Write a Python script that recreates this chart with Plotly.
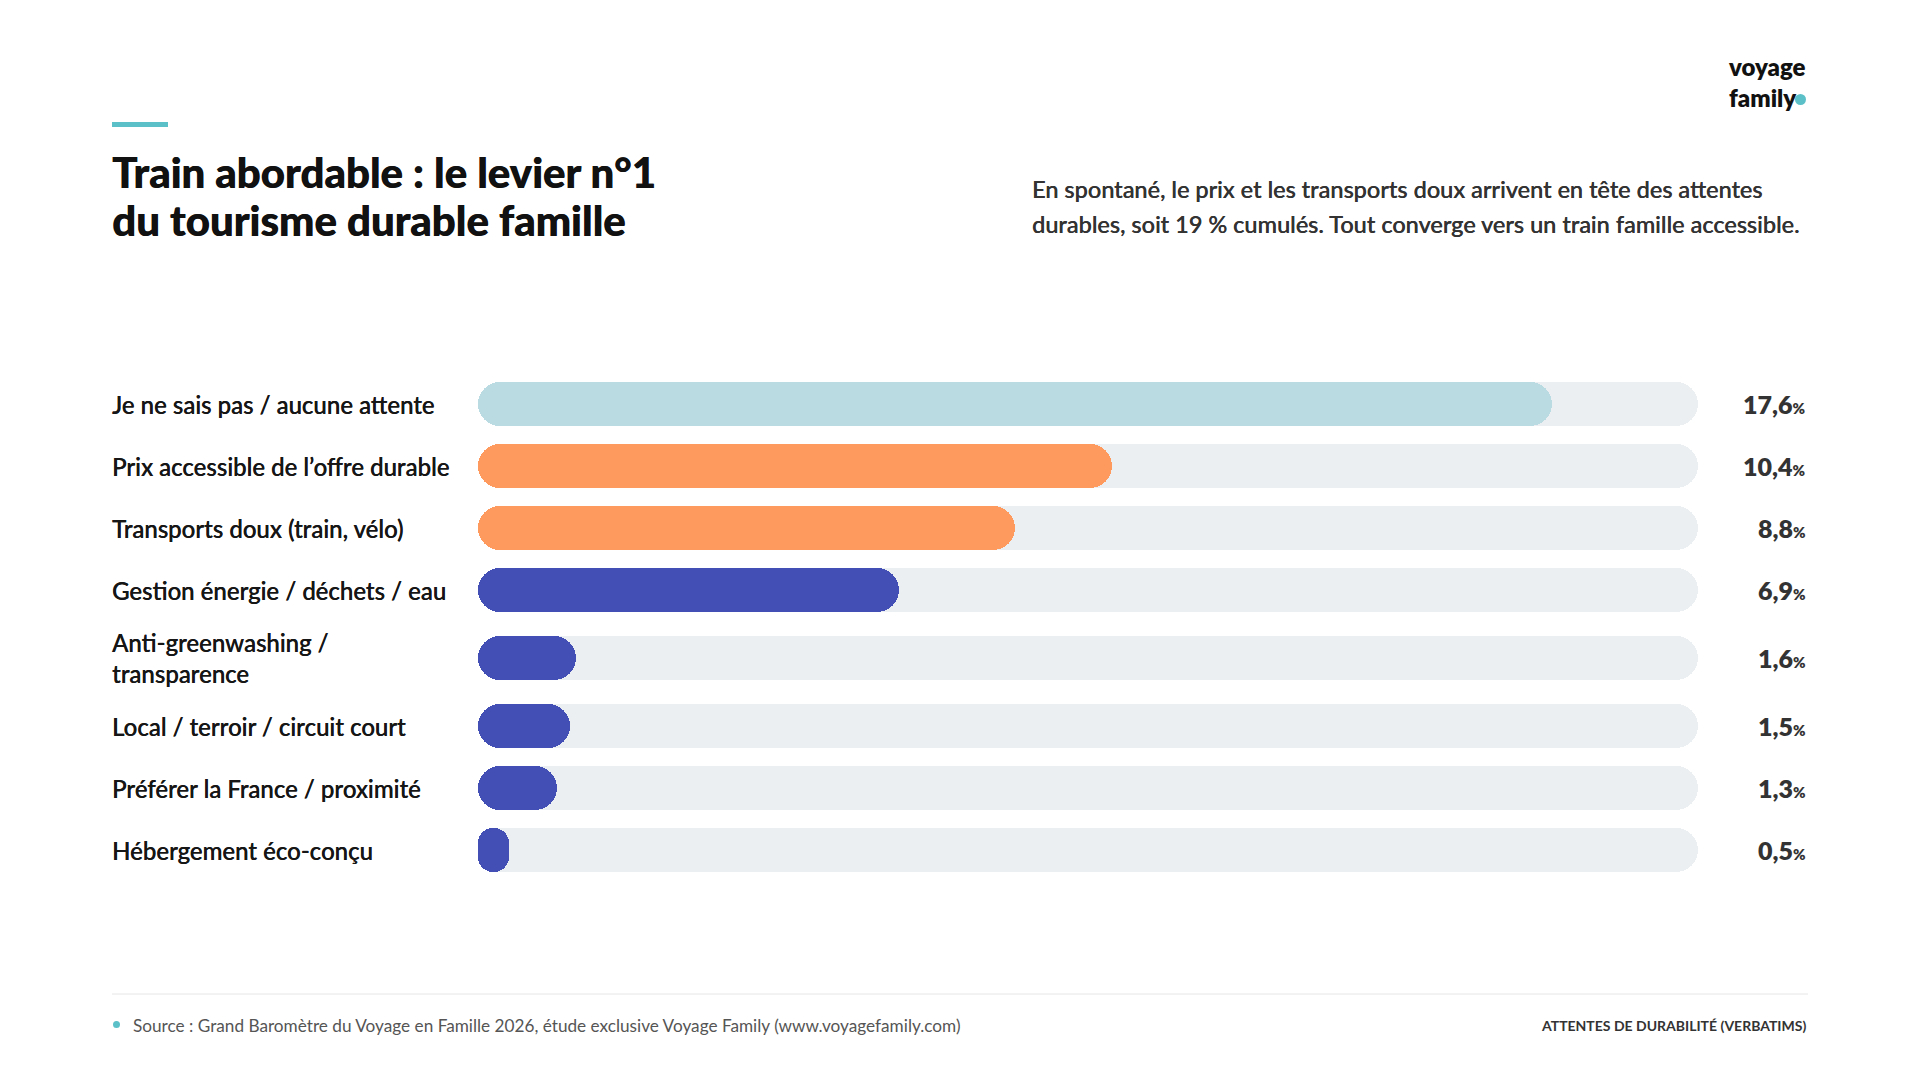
import plotly.graph_objects as go

# ---------------- data ----------------
categories = [
    "Je ne sais pas / aucune attente",
    "Prix accessible de l’offre durable",
    "Transports doux (train, vélo)",
    "Gestion énergie / déchets / eau",
    "Anti-greenwashing /<br>transparence",
    "Local / terroir / circuit court",
    "Préférer la France / proximité",
    "Hébergement éco-conçu",
]
values = [17.6, 10.4, 8.8, 6.9, 1.6, 1.5, 1.3, 0.5]
bar_colors = ["#BBDBE3", "#FF9A5E", "#FF9A5E", "#434FB5",
              "#434FB5", "#434FB5", "#434FB5", "#434FB5"]
scale_max = 20

title_lines = ["Train abordable : le levier n°1", "du tourisme durable famille"]
subtitle_lines = [
    "En spontané, le prix et les transports doux arrivent en tête des attentes",
    "durables, soit 19 % cumulés. Tout converge vers un train famille accessible.",
]
source_text = ("Source : Grand Baromètre du Voyage en Famille 2026, étude exclusive "
               "Voyage Family (www.voyagefamily.com)")
footer_right = "ATTENTES DE DURABILITÉ (VERBATIMS)"
logo_lines = ["voyage", "family"]

# ---------------- styling ----------------
W, H = 1920, 1080
FONT = "Lato"
TRACK = "#ECEFF2"
TEAL = "#5BC0C8"
TEXT = "#161616"
GREY = "#333333"
BAR_T = 44            # bar thickness (px)
ROW = 62              # base row pitch (px)
FIRST_ROW_PX = 404    # pixel centre of first row
PLOT_L, PLOT_R = 478, 1698

# row centres (px offsets) – taller rows for multi-line labels
heights = [ROW + 12 * c.count("<br>") for c in categories]
ypos = [0.0]
for i in range(1, len(categories)):
    ypos.append(ypos[-1] + (heights[i - 1] + heights[i]) / 2)

fig = go.Figure()

def pill(vals, color, name):
    # a bar with an explicit base is rounded at both ends -> pill shape
    fig.add_trace(go.Bar(
        orientation="h", y=ypos, x=list(vals), base=[0] * len(vals),
        width=BAR_T, marker=dict(color=color, cornerradius=BAR_T / 2, line=dict(width=0)),
        hoverinfo="skip", showlegend=False, name=name))

pill([scale_max] * len(values), TRACK, "track")
pill(values, bar_colors, "values")

ann = []
# category labels
for cat, y in zip(categories, ypos):
    ann.append(dict(x=110 / W, xref="paper", y=y, yref="y", text=cat, showarrow=False,
                    xanchor="left", yanchor="middle", align="left",
                    font=dict(family=FONT, size=24, color=TEXT, weight=500,
                              shadow="0.25px 0 0 #161616")))
# value labels
for v, y in zip(values, ypos):
    lbl = f"{v:.1f}".replace(".", ",")
    ann.append(dict(x=1808 / W, xref="paper", y=y, yref="y",
                    text=f"{lbl}<span style='font-size:15px'>%</span>",
                    showarrow=False, xanchor="right", yanchor="middle",
                    font=dict(family=FONT, size=25, color=GREY, weight=800)))
# title
for i, line in enumerate(title_lines):
    ann.append(dict(x=110 / W, xref="paper", y=1 - (172 + 48.5 * i) / H, yref="paper",
                    text=line, showarrow=False, xanchor="left", yanchor="middle",
                    font=dict(family=FONT, size=42, color="#111111", weight=900,
                              shadow="0.5px 0 0 #111111")))
# subtitle
for i, line in enumerate(subtitle_lines):
    ann.append(dict(x=1030 / W, xref="paper", y=1 - (189 + 35 * i) / H, yref="paper",
                    text=line, showarrow=False, xanchor="left", yanchor="middle",
                    font=dict(family=FONT, size=23.5, color=GREY, weight=500,
                              shadow="0.25px 0 0 #333333")))
# logo
ann.append(dict(x=1726 / W, xref="paper", y=1 - 50 / H, yref="paper",
                text="<br>".join(logo_lines), align="left",
                showarrow=False, xanchor="left", yanchor="top",
                font=dict(family=FONT, size=24, color="#111111", weight=800)))
# footer
ann.append(dict(x=131 / W, xref="paper", y=1 - 1025 / H, yref="paper", text=source_text,
                showarrow=False, xanchor="left", yanchor="middle",
                font=dict(family=FONT, size=17.2, color="#555555")))
ann.append(dict(x=1808 / W, xref="paper", y=1 - 1025 / H, yref="paper",
                text=footer_right, showarrow=False, xanchor="right",
                yanchor="middle", font=dict(family=FONT, size=14, color="#333333", weight=700)))

shapes = [
    # teal accent
    dict(type="rect", xref="paper", yref="paper", x0=112 / W, x1=168 / W,
         y0=1 - 127 / H, y1=1 - 122 / H, fillcolor=TEAL, line=dict(width=0)),
    # logo dot
    dict(type="circle", xref="paper", yref="paper", x0=1795 / W, x1=1806 / W,
         y0=1 - 105 / H, y1=1 - 94 / H, fillcolor=TEAL, line=dict(width=0)),
    # footer separator
    dict(type="line", xref="paper", yref="paper", x0=112 / W, x1=1808 / W,
         y0=1 - 994 / H, y1=1 - 994 / H, line=dict(color="#E6E6E6", width=1)),
    # footer dot
    dict(type="circle", xref="paper", yref="paper", x0=113 / W, x1=120 / W,
         y0=1 - 1028 / H, y1=1 - 1021 / H, fillcolor=TEAL, line=dict(width=0)),
]

fig.update_layout(
    width=W, height=H, margin=dict(l=0, r=0, t=0, b=0),
    paper_bgcolor="white", plot_bgcolor="white",
    barmode="overlay", bargap=0,
    xaxis=dict(range=[0, scale_max], domain=[PLOT_L / W, PLOT_R / W], visible=False,
               fixedrange=True),
    yaxis=dict(range=[H - FIRST_ROW_PX, -FIRST_ROW_PX], domain=[0, 1], visible=False,
               fixedrange=True),
    annotations=ann, shapes=shapes, showlegend=False,
)

fig.write_html("out.html", config={"displayModeBar": False})
